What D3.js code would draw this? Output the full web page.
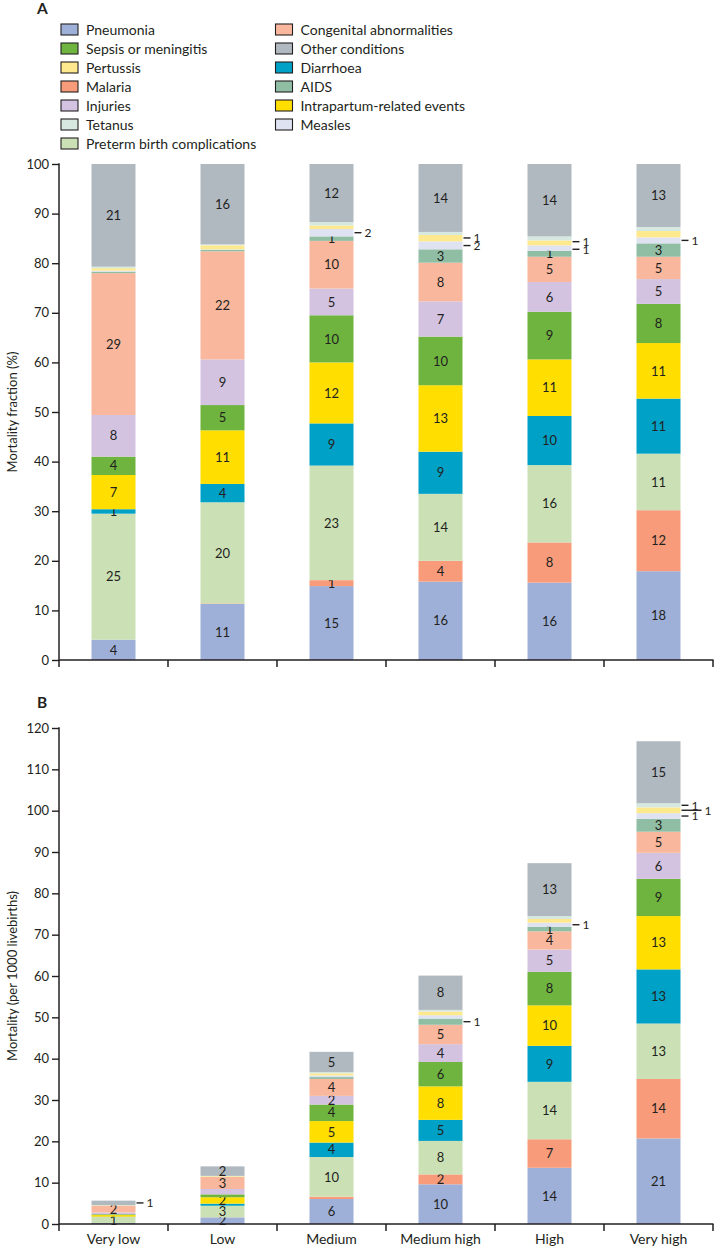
<!DOCTYPE html>
<html><head><meta charset="utf-8">
<script src="https://cdn.jsdelivr.net/npm/d3@7/dist/d3.min.js"></script>
<style>
body{margin:0;background:#fff;}
svg text{font-family:Lato,"Open Sans",sans-serif;fill:#231f20;}
</style></head><body>
<svg id="chart" width="714" height="1250"></svg>
<script>
// ---------- data ----------
const categories = ["Very low","Low","Medium","Medium high","High","Very high"];
// stack order, bottom to top
const causes = ["Pneumonia","Malaria","Preterm birth complications","Diarrhoea","Intrapartum-related events","Sepsis or meningitis","Injuries","Congenital abnormalities","AIDS","Measles","Pertussis","Tetanus","Other conditions"];
const causeColors = ["#9fb0d8","#f79b7b","#cbe1b5","#00a1c6","#ffde00","#6eb43f","#d3c3e0","#f9b89d","#90bea5","#dfe3f1","#fee98f","#d6e8df","#b1b9c0"];
const legendLeft = ["Pneumonia","Sepsis or meningitis","Pertussis","Malaria","Injuries","Tetanus","Preterm birth complications"];
const legendRight = ["Congenital abnormalities","Other conditions","Diarrhoea","AIDS","Intrapartum-related events","Measles"];

// Panel A: mortality fraction (%), rows follow `causes`, columns follow `categories`
const fractionA = [
  [4.1, 11.3, 14.9, 15.8, 15.6, 17.9],
  [0,    0.1,  1.2,  4.2,  8.1, 12.3],
  [25.4, 20.4, 23.1, 13.5, 15.6, 11.4],
  [0.9,  3.7,  8.5,  8.5,  9.9, 11.1],
  [6.9, 10.8, 12.3, 13.4, 11.4, 11.2],
  [3.7,  5.1,  9.5,  9.8,  9.6,  7.9],
  [8.4,  9.2,  5.4,  7.1,  6.0,  5.0],
  [28.6, 21.8, 9.6,  7.8,  5.1,  4.5],
  [0.3,  0.3,  0.9,  2.7,  1.2,  2.7],
  [0.2,  0.1,  1.5,  1.6,  1.1,  1.2],
  [0.5,  0.8,  0.7,  1.3,  1.0,  1.3],
  [0.3,  0.2,  0.7,  0.6,  0.8,  0.8],
  [20.7, 16.2, 11.7, 13.7, 14.6, 12.7]
];
const labelsA = [
  ["4","11","15","16","16","18"],
  ["","","1","4","8","12"],
  ["25","20","23","14","16","11"],
  ["1","4","9","9","10","11"],
  ["7","11","12","13","11","11"],
  ["4","5","10","10","9","8"],
  ["8","9","5","7","6","5"],
  ["29","22","10","8","5","5"],
  ["","","1","3","1","3"],
  ["","","","","",""],
  ["","","","","",""],
  ["","","","","",""],
  ["21","16","12","14","14","13"]
];
const calloutsA = [
  ["Medium","Measles","2"],
  ["Medium high","Pertussis","1"],["Medium high","Measles","2"],
  ["High","Pertussis","1"],["High","Measles","1"],
  ["Very high","Measles","1"]
];

// Panel B: mortality per 1000 livebirths
const mortalityB = [
  [0.25, 1.6,  6.05, 9.6, 13.6, 20.7],
  [0,    0.02, 0.55, 2.4,  6.9, 14.4],
  [1.45, 2.8,  9.6,  8.1, 13.9, 13.4],
  [0.06, 0.5,  3.5,  5.1,  8.7, 13.1],
  [0.4,  1.55, 5.2,  8.1,  9.8, 12.9],
  [0.2,  0.7,  4.0,  5.9,  8.1,  9.0],
  [0.45, 1.3,  2.1,  4.3,  5.4,  6.3],
  [1.6,  2.9,  4.1,  4.7,  4.4,  5.1],
  [0.02, 0.05, 0.45, 1.5,  1.1,  3.1],
  [0.02, 0.02, 0.4,  0.8,  1.0,  1.4],
  [0.08, 0.15, 0.5,  0.9,  0.9,  1.4],
  [0.02, 0.05, 0.3,  0.4,  0.7,  1.0],
  [1.1,  2.3,  4.9,  8.3, 12.8, 15.0]
];
const labelsB = [
  ["","2","6","10","14","21"],
  ["","","","2","7","14"],
  ["1","3","10","8","14","13"],
  ["","","4","5","9","13"],
  ["","2","5","8","10","13"],
  ["","","4","6","8","9"],
  ["","","2","4","5","6"],
  ["2","3","4","5","4","5"],
  ["","","","","1","3"],
  ["","","","","",""],
  ["","","","","",""],
  ["","","","","",""],
  ["","2","5","8","13","15"]
];
const calloutsB = [
  ["Very low","Other conditions","1"],
  ["Medium high","AIDS","1"],
  ["High","Measles","1"],
  ["Very high","Tetanus","1"],["Very high","Pertussis","1"],["Very high","Measles","1"]
];

const ticksA = [0,10,20,30,40,50,60,70,80,90,100];
const ticksB = [0,10,20,30,40,50,60,70,80,90,100,110,120];

// ---------- drawing ----------
const svg = d3.select("#chart");
const axisColor = "#231f20";
const color = d3.scaleOrdinal().domain(causes).range(causeColors);

const x = d3.scaleBand().domain(categories).range([59, 713])
  .paddingInner(65/109).paddingOuter(65/218);

// legend
function legendCol(items, sx, tx) {
  const g = svg.append("g");
  items.forEach((name, i) => {
    const cy = 29.5 + i * 19;
    g.append("rect").attr("x", sx).attr("y", cy - 5.5).attr("width", 17).attr("height", 11)
      .attr("fill", color(name)).attr("stroke", "#231f20").attr("stroke-width", 1.1);
    g.append("text").attr("x", tx).attr("y", cy + 5).attr("font-size", 14).text(name);
  });
}
legendCol(legendLeft, 61, 86);
legendCol(legendRight, 275.5, 300.5);

function drawPanel(letter, letterY, values, labels, callouts, yDomain, yRange, ticks, title, showXLabels) {
  const y = d3.scaleLinear().domain(yDomain).range(yRange);
  const g = svg.append("g");
  g.append("text").attr("x", 37).attr("y", letterY).attr("font-size", 15.5)
    .attr("font-weight", "bold").text(letter);

  const rows = categories.map((c, j) => {
    const o = {cat: c};
    causes.forEach((k, i) => o[k] = values[i][j]);
    return o;
  });
  const series = d3.stack().keys(causes)(rows);

  series.forEach((s, i) => {
    const sg = g.append("g");
    sg.selectAll("rect").data(s).join("rect")
      .attr("x", d => x(d.data.cat))
      .attr("y", d => y(d[1]))
      .attr("width", x.bandwidth())
      .attr("height", d => Math.max(0, y(d[0]) - y(d[1])))
      .attr("fill", color(s.key));
    sg.selectAll("text").data(s.filter((d, j) => labels[i][j] !== "")).join("text")
      .attr("x", d => x(d.data.cat) + x.bandwidth() / 2)
      .attr("y", d => (y(d[0]) + y(d[1])) / 2)
      .attr("dy", "0.36em")
      .attr("text-anchor", "middle")
      .attr("font-size", 13)
      .attr("fill", "#333")
      .text(d => labels[i][categories.indexOf(d.data.cat)]);
  });

  // callouts
  const byCat = d3.group(callouts.map(([cat, cause, txt]) => {
    const s = series[causes.indexOf(cause)];
    const d = s[categories.indexOf(cat)];
    return {cat, txt, yc: (y(d[0]) + y(d[1])) / 2};
  }), c => c.cat);
  byCat.forEach(list => {
    list.sort((a, b) => a.yc - b.yc);
    if (list.length === 2) {
      const gap = list[1].yc - list[0].yc;
      if (gap < 7.6) {
        const m = (list[0].yc + list[1].yc) / 2;
        list[0].yc = m - 3.8; list[1].yc = m + 3.8;
      }
    }
    list.forEach((c, k) => {
      const long = list.length >= 3 && k === 1;
      const x0 = x(c.cat) + x.bandwidth() + 1;
      const len = long ? 20 : 7;
      g.append("line").attr("x1", x0).attr("x2", x0 + len).attr("y1", c.yc).attr("y2", c.yc)
        .attr("stroke", axisColor).attr("stroke-width", 1.4);
      g.append("text").attr("x", x0 + len + 3).attr("y", c.yc).attr("dy", "0.36em")
        .attr("font-size", 12).text(c.txt);
    });
  });

  // y axis
  const ya = g.append("g").attr("transform", "translate(59,0)")
    .call(d3.axisLeft(y).tickValues(ticks).tickSize(7).tickPadding(3).tickSizeOuter(0));
  ya.select(".domain").remove();
  ya.selectAll("line").attr("stroke", axisColor).attr("stroke-width", 1.4);
  ya.selectAll("text").attr("font-size", 13).attr("fill", axisColor).style("font-family", "Lato,'Open Sans',sans-serif");
  g.append("line").attr("x1", 59).attr("x2", 59).attr("y1", y(yDomain[1]) - 0.7).attr("y2", y(0) + 7)
    .attr("stroke", axisColor).attr("stroke-width", 1.5);

  // x axis
  g.append("line").attr("x1", 59).attr("x2", 713.5).attr("y1", y(0)).attr("y2", y(0))
    .attr("stroke", axisColor).attr("stroke-width", 1.5);
  d3.range(1, categories.length + 1).forEach(i => {
    const bx = x.range()[0] + i * x.step();
    g.append("line").attr("x1", bx).attr("x2", bx).attr("y1", y(0)).attr("y2", y(0) + 7)
      .attr("stroke", axisColor).attr("stroke-width", 1.5);
  });
  if (showXLabels) {
    g.selectAll("text.xl").data(categories).join("text").attr("class", "xl")
      .attr("x", d => x(d) + x.bandwidth() / 2)
      .attr("y", y(0) + 20)
      .attr("text-anchor", "middle").attr("font-size", 14).text(d => d);
  }

  // axis title
  const mid = (yRange[0] + yRange[1]) / 2;
  g.append("text").attr("transform", `translate(12,${mid}) rotate(-90)`)
    .attr("text-anchor", "middle").attr("dy", "0.35em").attr("font-size", 13).text(title);
}

drawPanel("A", 14, fractionA, labelsA, calloutsA, [0, 100], [660, 164], ticksA, "Mortality fraction (%)", false);
drawPanel("B", 708, mortalityB, labelsB, calloutsB, [0, 120], [1224, 728], ticksB, "Mortality (per 1000 livebirths)", true);
</script>
</body></html>
